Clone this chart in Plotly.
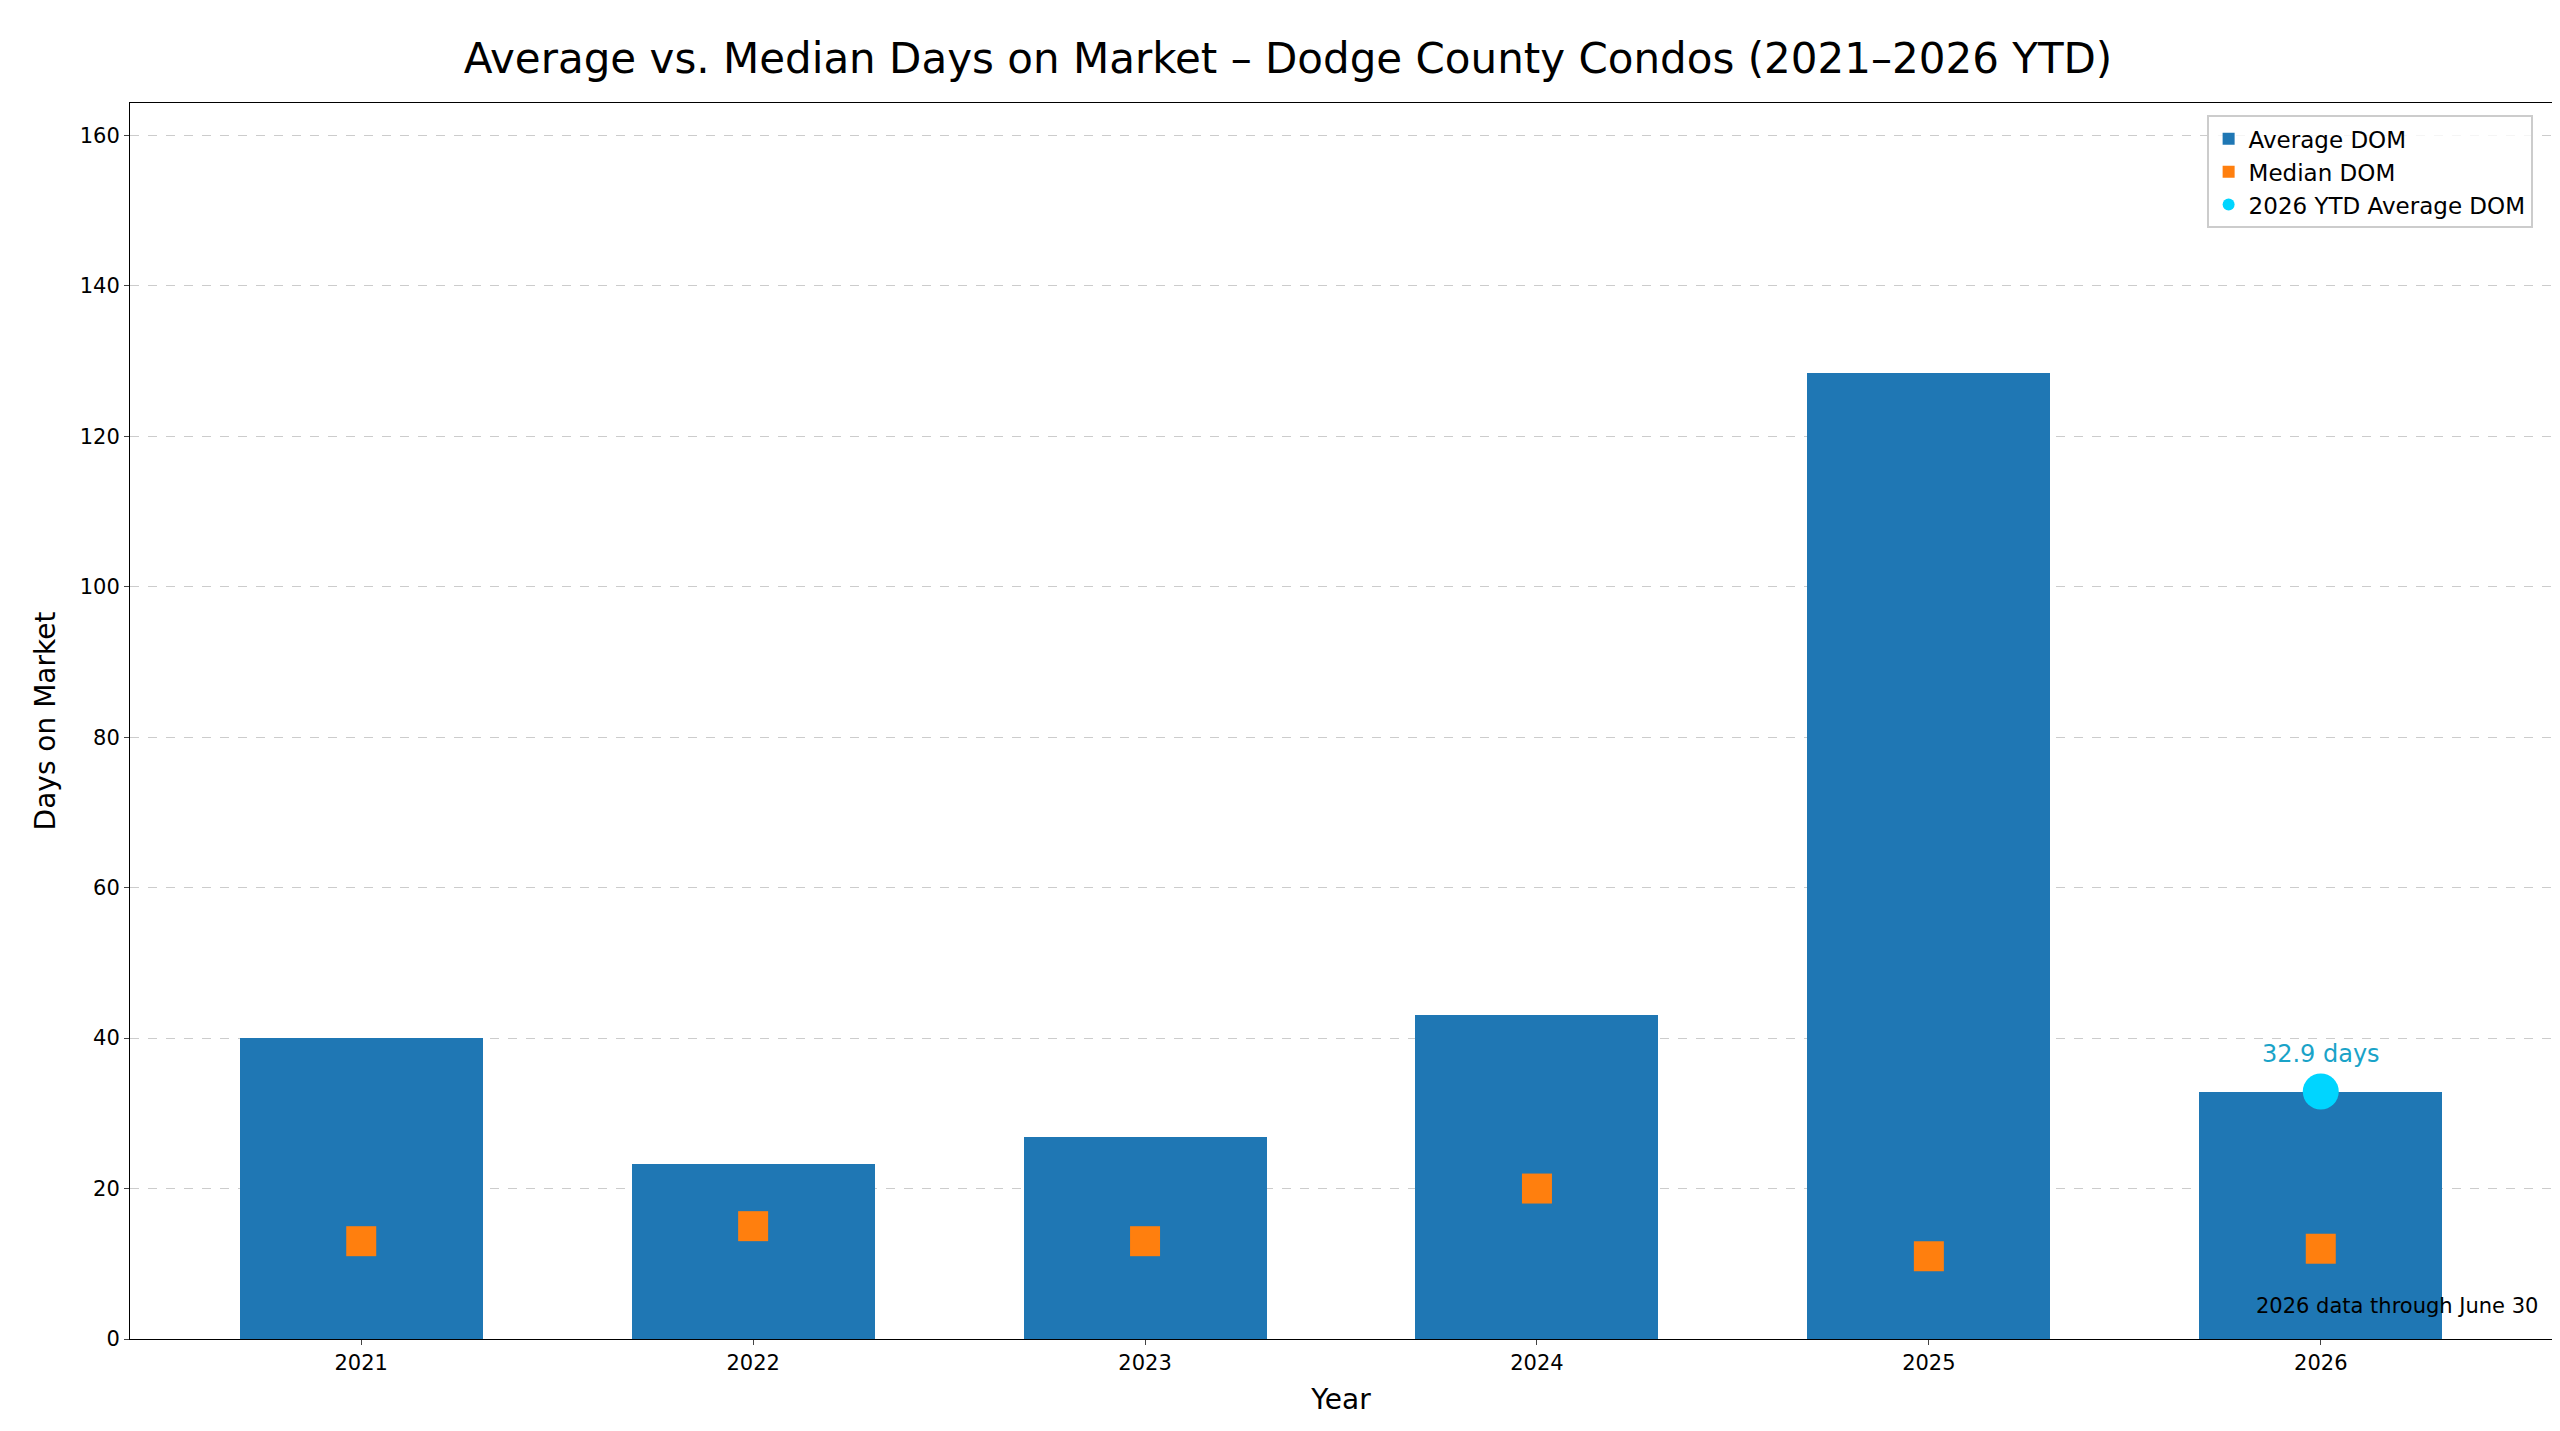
import plotly.graph_objects as go

years = [2021, 2022, 2023, 2024, 2025, 2026]
avg_dom = [40.0, 23.2, 26.8, 43.1, 128.4, 32.9]
median_dom = [13, 15, 13, 20, 11, 12]
ytd_year = [2026]
ytd_avg = [32.9]

fig = go.Figure()
fig.add_trace(go.Bar(x=years, y=avg_dom, width=0.62, name='Average DOM',
                     marker=dict(color='#1f77b4', line=dict(width=0))))
fig.add_trace(go.Scatter(x=years, y=median_dom, mode='markers', name='Median DOM',
                         marker=dict(symbol='square', size=30, color='#ff7f0e')))
fig.add_trace(go.Scatter(x=ytd_year, y=ytd_avg, mode='markers+text', name='2026 YTD Average DOM',
                         marker=dict(symbol='circle', size=36, color='#00d5ff'),
                         text=[f'{ytd_avg[0]} days'], textposition='top center',
                         textfont=dict(size=24, color='#1aa3c8', family='DejaVu Sans, sans-serif')))

fig.add_annotation(text='2026 data through June 30', xref='paper', yref='paper',
                   x=0.995, y=0.015, xanchor='right', yanchor='bottom', showarrow=False,
                   font=dict(size=21, color='black'))

fig.update_layout(
    width=2560, height=1431,
    template='simple_white',
    font=dict(family='DejaVu Sans, sans-serif', size=21, color='black'),
    title=dict(text='Average vs. Median Days on Market – Dodge County Condos (2021–2026 YTD)',
               x=0.5, xanchor='center', y=0.975, font=dict(size=42)),
    margin=dict(l=122, r=16, t=95, b=100),
    bargap=0,
    legend=dict(x=0.992, y=0.99, xanchor='right', yanchor='top', traceorder='normal',
                bordercolor='#cccccc', borderwidth=2, bgcolor='rgba(255,255,255,0.8)',
                font=dict(size=23), itemsizing='constant'),
    plot_bgcolor='white',
)
fig.update_xaxes(title=dict(text='Year', font=dict(size=28)), tickvals=years,
                 range=[2020.41, 2026.59], showline=True, mirror=True, linecolor='black',
                 ticks='outside', tickfont=dict(size=21))
fig.update_yaxes(title=dict(text='Days on Market', font=dict(size=28)), range=[0, 164.3],
                 dtick=20, showgrid=True, gridcolor='#cccccc', griddash='dash',
                 showline=True, mirror=True, linecolor='black', ticks='outside',
                 tickfont=dict(size=21), zeroline=False)

fig.write_html('out.html')
